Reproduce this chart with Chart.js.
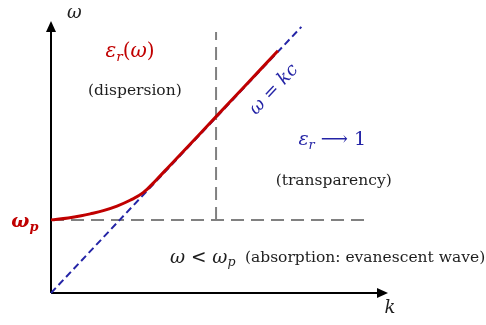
<!DOCTYPE html>
<html>
<head>
<meta charset="utf-8">
<script src="https://cdn.jsdelivr.net/npm/chart.js@4/dist/chart.umd.min.js"></script>
<style>
html, body { margin: 0; padding: 0; background: #fff; }
#wrap { width: 486px; height: 325px; }
</style>
</head>
<body>
<div id="wrap"><canvas id="myChart"></canvas></div>
<script>
// plasma dispersion (units: omega_p = 1)
var curveK     = [0, 0.25, 0.44, 0.57, 0.76, 0.96, 1.15, 1.34, 1.54, 1.73, 1.95, 2.17, 2.40, 2.82, 3.30];
var curveOmega = [1.00, 1.027, 1.056, 1.082, 1.127, 1.189, 1.268, 1.372, 1.556, 1.745, 1.962, 2.182, 2.412, 2.832, 3.312];

// light line omega = kc
var lightK     = [0, 3.64];
var lightOmega = [0, 3.64];

// guide lines
var omegaP   = 1;
var plasmaK  = [0, 4.57];
var cutK     = 2.40;
var cutOmega = [1, 3.57];

// axis extents (arrow tips)
var kMax = 4.9;
var omegaMax = 3.72;

var RED = '#c00000';
var BLUE = '#2424a6';
var GREY = '#808080';
var INK = '#1e1e1e';

function pts(xs, ys) {
    var out = [];
    for (var i = 0; i < xs.length; i++) out.push({x: xs[i], y: ys[i]});
    return out;
}

// text labels, anchored in data units
var labels = [
    {k: 0.34, w: 3.83, color: INK, size: 18, runs: [{t: 'ω', it: true}]},
    {k: 4.93, w: -0.21, color: INK, size: 18, runs: [{t: 'k', it: true}]},
    {k: 1.15, w: 3.30, color: RED, size: 20, runs: [{t: 'ε', it: true}, {t: 'r', it: true, sub: true}, {t: '('}, {t: 'ω', it: true}, {t: ')'}]},
    {k: 1.22, w: 2.76, color: INK, size: 15.5, runs: [{t: '(dispersion)'}]},
    {k: 3.24, w: 2.78, color: BLUE, size: 18, along: true, runs: [{t: 'ω', it: true}, {t: ' = '}, {t: 'kc', it: true}]},
    {k: 4.09, w: 2.09, color: BLUE, size: 19, runs: [{t: 'ε', it: true}, {t: 'r', it: true, sub: true}, {t: ' ⟶ 1'}]},
    {k: 4.11, w: 1.53, color: INK, size: 15.5, runs: [{t: '(transparency)'}]},
    {k: -0.38, w: 0.97, color: RED, size: 19, runs: [{t: 'ω', it: true, b: true}, {t: 'p', it: true, b: true, sub: true}]},
    {k: 1.73, w: 0.48, color: INK, size: 18.5, left: true, runs: [{t: 'ω', it: true}, {t: ' < '}, {t: 'ω', it: true}, {t: 'p', it: true, sub: true}]},
    {k: 2.82, w: 0.48, color: INK, size: 15.5, left: true, runs: [{t: '(absorption: evanescent wave)'}]}
];

function runFont(r, size) {
    var s = r.sub ? size * 0.68 : size;
    return (r.it ? 'italic ' : '') + (r.b ? 'bold ' : '') + s + 'px "DejaVu Serif", serif';
}

function drawRuns(ctx, lab) {
    var total = 0;
    lab.runs.forEach(function(r) {
        ctx.font = runFont(r, lab.size);
        total += ctx.measureText(r.t).width;
    });
    var x = lab.left ? 0 : -total / 2;
    lab.runs.forEach(function(r) {
        ctx.font = runFont(r, lab.size);
        ctx.fillText(r.t, x, r.sub ? lab.size * 0.28 : 0);
        x += ctx.measureText(r.t).width;
    });
}

var decorPlugin = {
    id: 'decor',
    afterDatasetsDraw: function(chart) {
        var ctx = chart.ctx, sx = chart.scales.x, sy = chart.scales.y;
        var ox = sx.getPixelForValue(0), oy = sy.getPixelForValue(0);
        var tx = sx.getPixelForValue(kMax), ty = sy.getPixelForValue(omegaMax);

        ctx.save();
        ctx.fillStyle = '#000';
        ctx.beginPath();
        ctx.moveTo(tx, oy); ctx.lineTo(tx - 11, oy - 5); ctx.lineTo(tx - 11, oy + 5);
        ctx.closePath(); ctx.fill();
        ctx.beginPath();
        ctx.moveTo(ox, ty); ctx.lineTo(ox - 5, ty + 11); ctx.lineTo(ox + 5, ty + 11);
        ctx.closePath(); ctx.fill();

        var ang = Math.atan2(sy.getPixelForValue(lightOmega[1]) - oy, sx.getPixelForValue(lightK[1]) - ox);
        ctx.textBaseline = 'middle';
        labels.forEach(function(lab) {
            ctx.save();
            ctx.translate(sx.getPixelForValue(lab.k), sy.getPixelForValue(lab.w));
            if (lab.along) ctx.rotate(ang);
            ctx.fillStyle = lab.color;
            drawRuns(ctx, lab);
            ctx.restore();
        });
        ctx.restore();
    }
};

var myChart = new Chart(document.getElementById('myChart'), {
    type: 'scatter',
    data: {
        datasets: [{
            data: pts(curveK, curveOmega),
            showLine: true,
            borderColor: RED,
            borderWidth: 3,
            pointRadius: 0,
            tension: 0.4,
            clip: false,
            order: 0
        }, {
            data: pts(lightK, lightOmega),
            showLine: true,
            borderColor: BLUE,
            borderWidth: 2,
            borderDash: [7, 4],
            pointRadius: 0,
            clip: false,
            order: 1
        }, {
            data: pts(plasmaK, [omegaP, omegaP]),
            showLine: true,
            borderColor: GREY,
            borderWidth: 2,
            borderDash: [13, 7],
            pointRadius: 0,
            clip: false,
            order: 2
        }, {
            data: pts([cutK, cutK], cutOmega),
            showLine: true,
            borderColor: GREY,
            borderWidth: 2,
            borderDash: [13, 7],
            pointRadius: 0,
            clip: false,
            order: 2
        }, {
            data: pts([0, kMax - 0.1], [0, 0]),
            showLine: true,
            borderColor: '#000',
            borderWidth: 2,
            pointRadius: 0,
            clip: false,
            order: 3
        }, {
            data: pts([0, 0], [0, omegaMax - 0.1]),
            showLine: true,
            borderColor: '#000',
            borderWidth: 2,
            pointRadius: 0,
            clip: false,
            order: 3
        }]
    },
    options: {
        responsive: true,
        maintainAspectRatio: false,
        animation: false,
        devicePixelRatio: 1,
        layout: { padding: { left: 51, right: 98, top: 21, bottom: 32 } },
        scales: {
            x: { type: 'linear', min: 0, max: kMax, display: false },
            y: { type: 'linear', min: 0, max: omegaMax, display: false }
        },
        plugins: {
            legend: { display: false },
            tooltip: { enabled: false }
        }
    },
    plugins: [decorPlugin]
});
</script>
</body>
</html>
